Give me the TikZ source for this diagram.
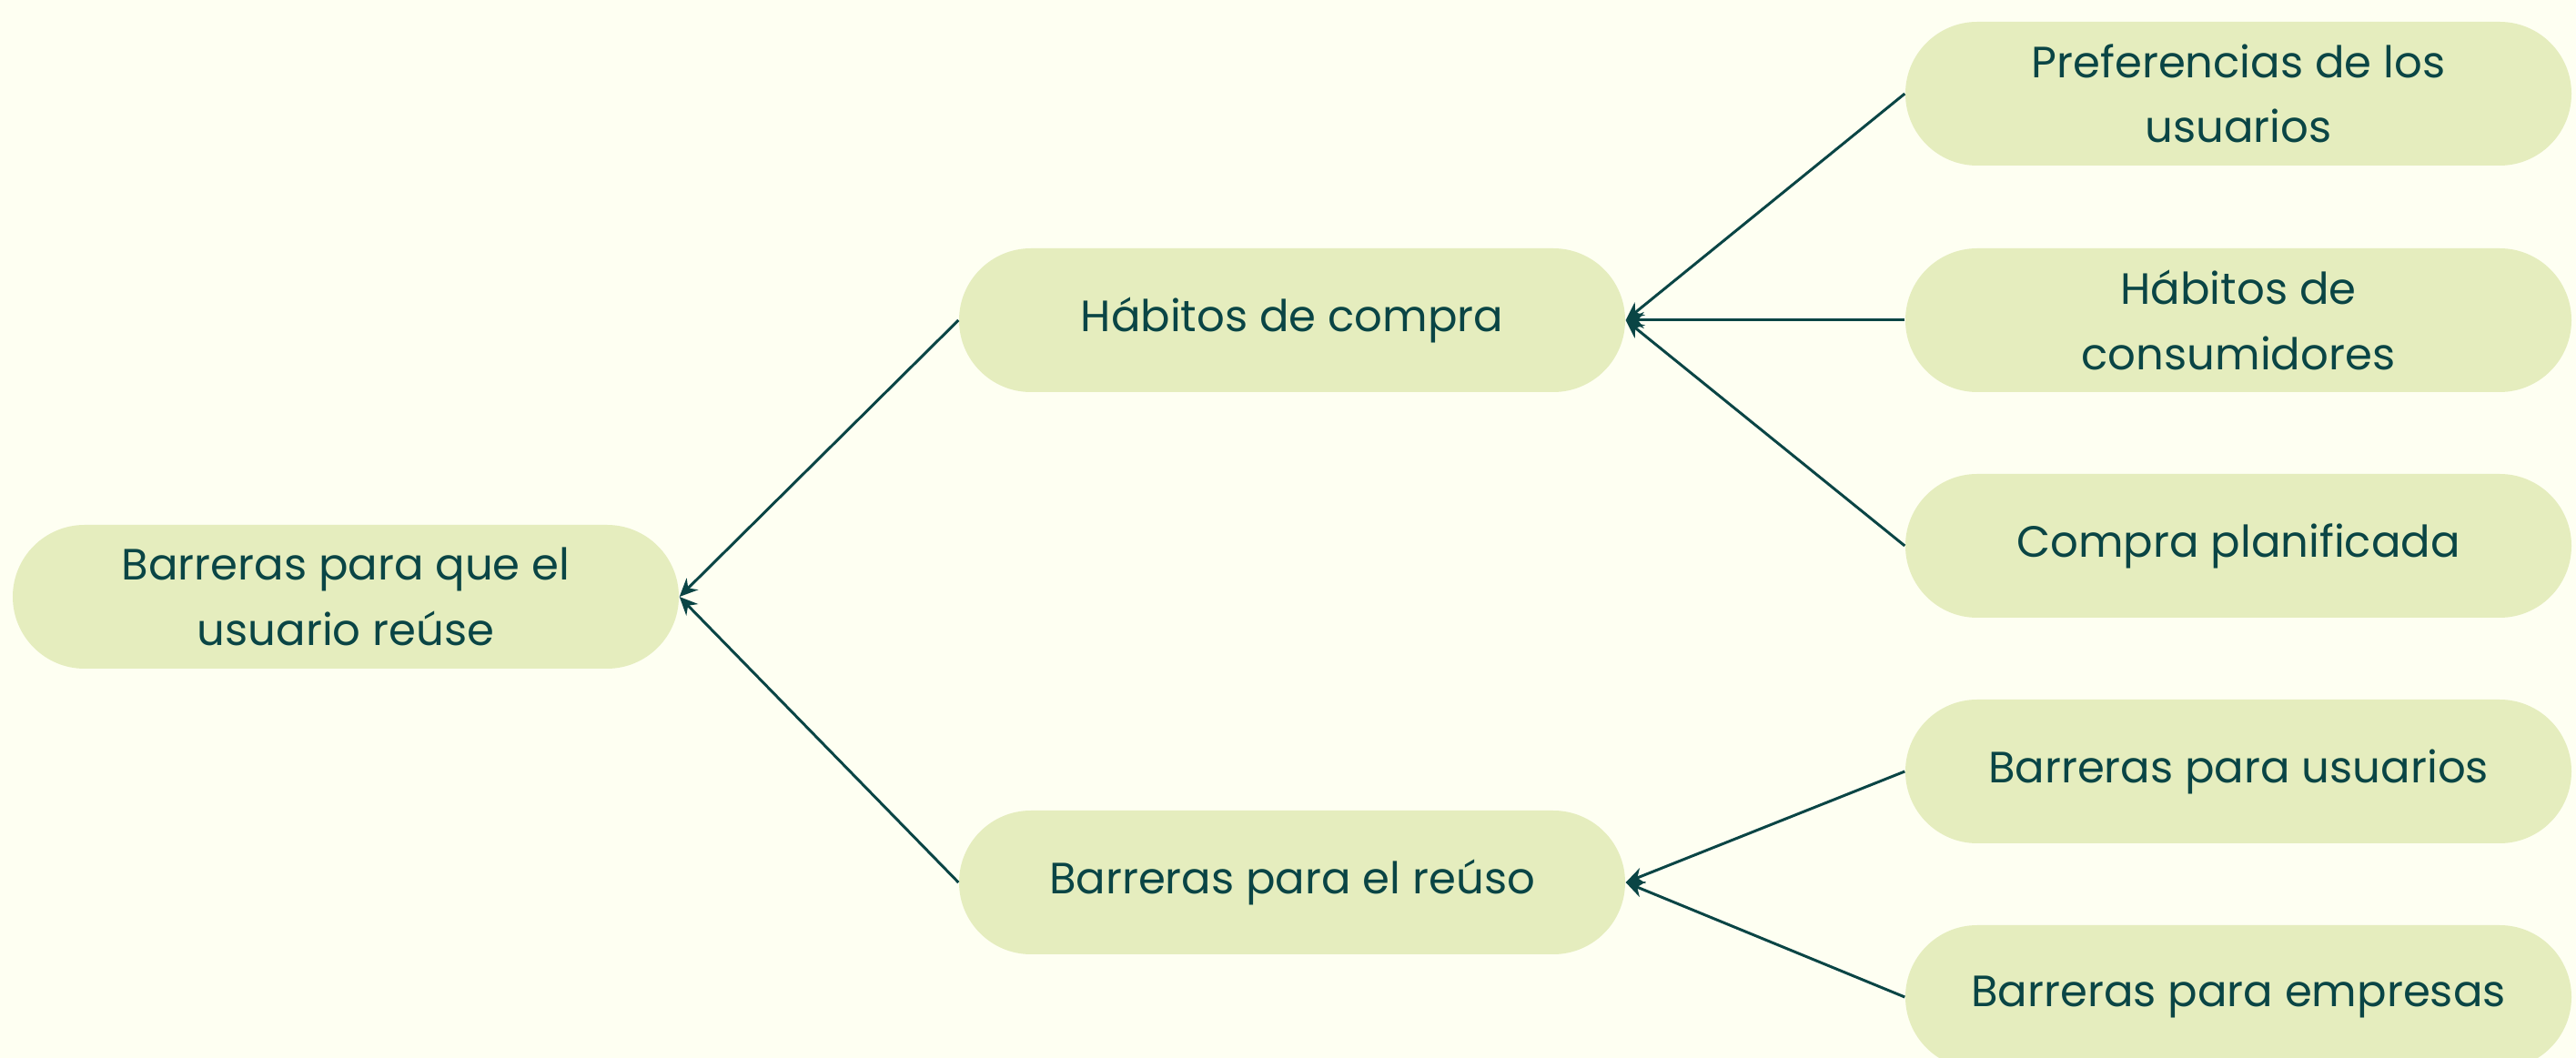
\documentclass[tikz,border=0pt]{standalone}
\usepackage{fontspec}
\setmainfont{Poppins}
\usetikzlibrary{arrows.meta}
\definecolor{bgcol}{HTML}{FEFFF2}
\definecolor{boxcol}{HTML}{E5EDBE}
\definecolor{inkcol}{HTML}{0A4545}
\begin{document}
\begin{tikzpicture}[
    topic/.style={rectangle, rounded corners=7.9mm, fill=boxcol, text=inkcol,
      minimum width=7.32cm, minimum height=1.58cm, inner sep=0pt, align=center,
      font=\fontsize{13.7}{20.3}\selectfont},
    link/.style={draw=inkcol, line width=0.85pt, -{Stealth[length=2mm,width=1.8mm]}}
  ]
  \fill [bgcol] (0,0) rectangle (28.31,11.63);
  \useasboundingbox (0,0) rectangle (28.31,11.63);

  % root and middle level
  \node [topic] (root) at (3.80,5.07) {Barreras para que el\\usuario reúse};
  \node [topic] (habitos) at (14.20,8.11) {Hábitos de compra};
  \node [topic] (barreras) at (14.20,1.93) {Barreras para el reúso};

  % leaves
  \node [topic] (prefer) at (24.60,10.60) {Preferencias de los\\usuarios};
  \node [topic] (consum) at (24.60,8.11) {Hábitos de\\consumidores};
  \node [topic] (planif) at (24.60,5.63) {Compra planificada};
  \node [topic] (usuar) at (24.60,3.15) {Barreras para usuarios};
  \node [topic] (empres) at (24.60,0.67) {Barreras para empresas};

  \draw [link] (habitos.west) -- (root.east);
  \draw [link] (barreras.west) -- (root.east);
  \foreach \leaf in {prefer,consum,planif}
    \draw [link] (\leaf.west) -- (habitos.east);
  \foreach \leaf in {usuar,empres}
    \draw [link] (\leaf.west) -- (barreras.east);
\end{tikzpicture}
\end{document}
